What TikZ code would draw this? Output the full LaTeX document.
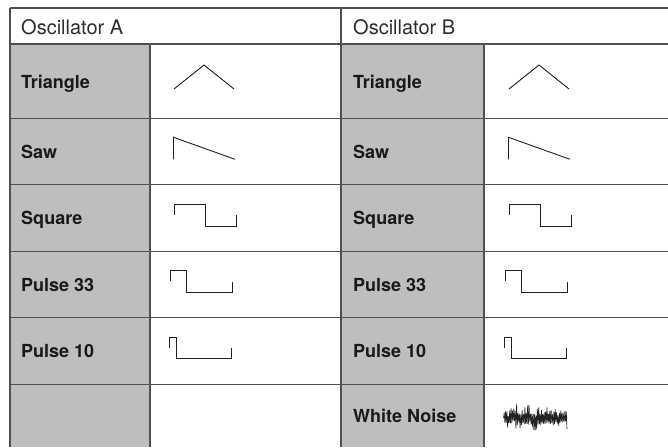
\documentclass[tikz,border=0pt]{standalone}
\usepackage{fontspec}
\setmainfont{TeX Gyre Heros}
\definecolor{cellgray}{RGB}{190,190,190}
\definecolor{gridcol}{RGB}{80,80,80}
\definecolor{wavecol}{RGB}{34,34,34}
\definecolor{headcol}{RGB}{45,45,45}
\definecolor{labcol}{RGB}{25,25,25}
\begin{document}
\begin{tikzpicture}[x=1pt,y=-1pt,
  hline/.style={draw=gridcol,line width=1pt},
  vline/.style={draw=gridcol,line width=1.8pt},
  wave/.style={draw=wavecol,line width=0.9pt,line join=miter},
  head/.style={anchor=base west,inner sep=0pt,font=\fontsize{20}{24}\selectfont,text=headcol},
  lab/.style={anchor=base west,inner sep=0pt,font=\fontsize{18}{21}\selectfont\bfseries,text=labcol}]
\useasboundingbox (0,0) rectangle (668,447);
\fill[white] (0,0) rectangle (668,447);
\fill[cellgray] (10,44) rectangle (150,447);
\fill[cellgray] (341,44) rectangle (484,447);
% horizontal rules
\draw[hline,line width=1.6pt] (10,8) -- (668,8);
\draw[hline,line width=1.4pt] (10,44) -- (668,44);
\foreach \y in {118,184,251,317,384} \draw[hline] (10,\y) -- (668,\y);
% vertical rules
\draw[vline] (10,8) -- (10,447);
\draw[vline] (341,8) -- (341,447);
\draw[vline] (150,44) -- (150,447);
\draw[vline] (484,44) -- (484,447);
% headers
\node[head] (oscA) at (21,34) {Oscillator A};
\node[head] (oscB) at (353,34) {Oscillator B};
% labels A
\node[lab] (triA) at (21,88) {Triangle};
\node[lab] (sawA) at (21,158) {Saw};
\node[lab] (sqA) at (21,224.5) {Square};
\node[lab] (p33A) at (21,291) {Pulse 33};
\node[lab] (p10A) at (21,357.5) {Pulse 10};
% labels B
\node[lab] (triB) at (353,88) {Triangle};
\node[lab] (sawB) at (353,158) {Saw};
\node[lab] (sqB) at (353,224.5) {Square};
\node[lab] (p33B) at (353,291) {Pulse 33};
\node[lab] (p10B) at (353,357.5) {Pulse 10};
\node[lab] (wnB) at (353,422.5) {White Noise};
% waveforms
\foreach \dx in {0,335}{
\begin{scope}[xshift=\dx]
\draw[wave] (174,89) -- (204,65) -- (234,89);
\draw[wave] (173.5,159.3) -- (173.5,137.3) -- (235,159.3);
\draw[wave] (174.3,215) -- (174.3,204.3) -- (205,204.3) -- (205,226) -- (236,226) -- (236,215.3);
\draw[wave] (170.7,281) -- (170.7,270.7) -- (186,270.7) -- (186,292.3) -- (232.3,292.3) -- (232.3,281.7);
\draw[wave] (169.7,347.7) -- (169.7,337) -- (176,337) -- (176,358.7) -- (231,358.7) -- (231,348.3);
\end{scope}
}
% white noise
\pgfmathsetseed{4242}
\draw[draw=wavecol,line width=0.65pt] (503.5,418)
  \foreach \i in {1,...,92}{ -- ({503.5+\i*0.69},{418+(-1)^\i*(2+4*rnd+10*rnd*rnd)}) };
\end{tikzpicture}
\end{document}
